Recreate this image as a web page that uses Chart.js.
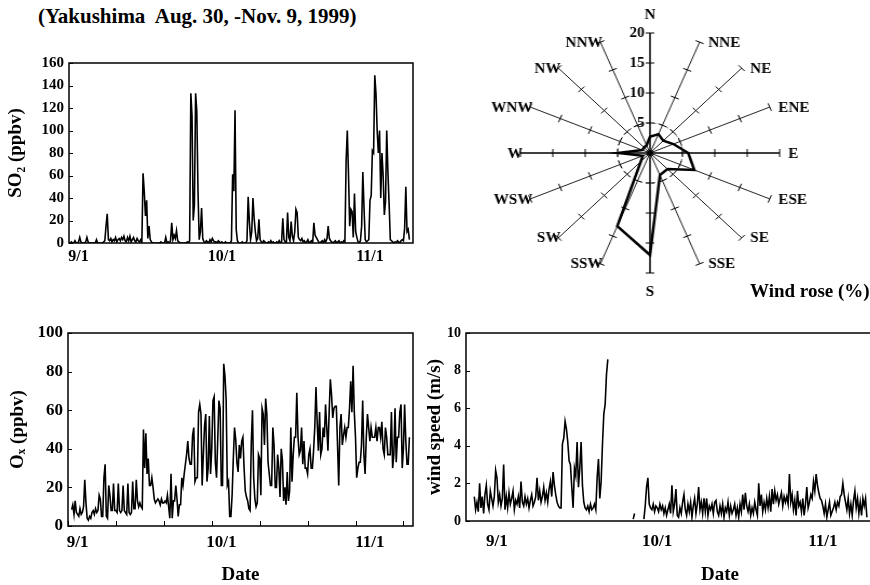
<!DOCTYPE html>
<html>
<head>
<meta charset="utf-8">
<script src="https://cdn.jsdelivr.net/npm/chart.js@4.4.1/dist/chart.umd.min.js"></script>
<style>
  html, body { margin: 0; padding: 0; background: #fff; overflow: hidden; }
  body { width: 870px; height: 585px; position: relative; font-family: "Liberation Serif", "Times New Roman", serif; }
  canvas { position: absolute; }
  #title { position: absolute; left: 38px; top: 6px; font-size: 21px; font-weight: bold; line-height: 1; white-space: pre; }
  #roseTitle { position: absolute; left: 750px; top: 281px; font-size: 19px; font-weight: bold; line-height: 1; white-space: pre; }
</style>
</head>
<body>
<div id="title">(Yakushima  Aug. 30, -Nov. 9, 1999)</div>
<canvas id="so2Chart" width="430" height="232" style="left:0;top:40px"></canvas>
<canvas id="roseChart" width="360" height="300" style="left:470px;top:3px;transform:scaleX(1.08);transform-origin:50% 50%"></canvas>
<div id="roseTitle">Wind rose (%)</div>
<canvas id="oxChart" width="430" height="276" style="left:0;top:310px"></canvas>
<canvas id="windChart" width="570" height="276" style="left:424px;top:310px"></canvas>

<script>
// time axis: days since Aug 30 0:00, one value every 6 hours
const tStep = 0.25;
const dateTicks = [2, 32, 63];
const dateLabels = ['9/1', '10/1', '11/1'];
const tenDayMarks = [0, 10, 20, 30, 40, 50, 60, 70];

// SO2 (ppbv), from t = 0
const so2Start = 0;
const so2 = [
  0,0,1,0,  0,2,0,0,  1,5,1,0,  0,0,1,5,  1,0,0,0,  0,0,0,3,  0,0,0,0,  0,1,2,15,
  26,3,2,4,  1,3,2,5,  1,3,4,2,  5,3,6,2,  1,5,2,6,  1,3,5,2,  1,4,2,1,  3,0,62,46,
  24,38,4,15,  3,1,0,0,  0,0,0,0,  0,1,0,0,  0,5,0,1,  0,2,18,3,  7,4,11,2,  1,0,0,0,
  0,0,0,1,  0,2,133,113,  20,34,133,117,  46,3,10,31,  4,1,0,2,  1,0,3,1,  4,2,1,1,  0,2,1,0,
  1,0,0,1,  0,0,0,0,  2,61,46,118,  12,2,0,0,  0,1,0,0,  0,2,41,19,  3,10,40,22,  10,2,4,21,
  3,1,0,2,  1,0,0,1,  0,2,0,1,  0,0,1,0,  2,0,1,22,  3,1,0,27,  5,2,19,6,  2,10,30,27,
  5,3,2,4,  1,2,0,1,  3,0,1,2,  0,18,7,5,  3,1,0,1,  2,0,3,1,  4,15,4,2,  1,0,1,2,
  0,1,2,0,  1,0,2,1,  73,100,61,15,  30,28,5,44,  10,5,1,0,  2,15,63,31,  3,1,2,3,  38,42,82,80,
  149,133,100,80,  100,40,80,60,  25,37,100,63,  35,3,2,1,  0,1,0,2,  1,0,2,3,  2,13,50,10,  12,3
];

// Ox (ppbv), from t = 0
const oxStart = 0;
const ox = [
  null,null,null,8.5,  11,6,13,7,  6,5,9,6,  7,10,24,12,  4,3,5,4,  7,8,6,9,  7,8,16,14,  5,5,25,32,
  5,4,21,16,  8,8,22,8,  8,7,22,8,  7,8,21,8,  7,6,22,7,  6,7,23,9,  9,24,13,10,  12,10,9,50,
  30,48,27,35,  21,21,25,20,  14,12,13,14,  13,11,14,12,  12,13,12,16,  10,4,27,4,  13,13,21,14,  5,11,11,25,
  21,27,32,37,  44,35,32,32,  47,51,23,25,  25,59,63,58,  21,37,52,58,  23,30,57,27,  40,65,67,33,  25,45,65,61,
  21,21,84,78,  66,21,23,5,  5,16,35,51,  45,33,28,42,  35,44,46,30,  18,15,13,9,  8,43,60,25,  14,10,12,37,
  35,16,61,58,  42,66,58,33,  27,21,21,51,  42,20,20,37,  30,15,40,34,  13,20,11,28,  13,18,51,23,  37,46,46,69,
  46,37,39,51,  32,44,30,30,  27,37,40,30,  30,39,51,72,  54,39,59,37,  40,51,46,63,  51,39,59,76,  68,56,61,62,
  62,42,21,51,  58,42,47,51,  46,51,51,61,  75,59,83,59,  46,25,30,33,  33,42,65,37,  27,46,58,51,  44,51,46,46,
  46,51,44,51,  51,46,54,40,  37,51,46,37,  37,37,59,30,  37,61,33,46,  46,59,63,30,  40,63,44,32,  32,46
];

// wind speed (m/s), from t = -3 (no data Sept 21-28)
const windStart = -3;
const wind = [
  null,null,null,1.3,  0.6,1.0,0.5,2.0,  0.7,1.3,0.4,1.4,
  1.9,0.9,0.6,1.6,  1.2,0.8,1.3,2.7,  2.3,1.0,1.4,0.8,  1.2,3.0,0.6,1.3,  0.7,1.5,0.9,1.2,
  1.6,0.6,1.1,0.9,  1.3,0.7,2.1,1.0,  0.8,1.3,0.9,1.2,  0.7,1.1,1.4,0.8,  1.0,1.3,2.3,1.1,
  1.6,1.0,1.3,1.8,  1.1,1.5,1.0,1.7,  2.1,1.3,2.6,1.9,  1.4,1.0,0.8,0.7,  0.7,4.1,4.4,5.3,
  4.9,4.2,3.2,3.0,  1.8,0.7,2.8,2.4,  4.2,1.8,2.8,4.2,  1.9,1.0,0.7,0.6,  0.8,0.5,0.9,0.6,
  0.7,0.9,0.6,2.3,  3.3,1.2,2.1,4.1,  5.7,6.2,7.8,8.6,  null,null,null,null,  null,null,null,null,
  null,null,null,null,  null,null,null,null,  null,null,0.1,0.4,  null,null,null,null,  null,null,0.1,0.8,
  1.8,2.3,0.9,0.7,  0.6,0.9,0.5,0.8,  0.7,0.5,0.9,0.6,  0.8,0.4,0.7,0.3,  0.6,0.9,0.4,1.9,
  0.5,0.9,1.7,0.3,  0.2,0.7,0.4,1.0,  1.4,0.6,0.3,0.9,  0.5,1.0,0.2,0.8,  1.2,0.4,0.9,1.8,
  0.6,1.0,0.4,1.2,  0.5,1.2,0.3,0.8,  0.6,0.9,0.4,1.0,  1.1,0.5,0.3,0.8,  0.4,0.9,0.2,0.7,
  0.5,1.0,0.3,0.8,  0.4,0.6,0.9,0.3,  0.7,0.2,0.9,0.5,  1.4,0.6,1.5,0.8,  0.5,0.9,0.3,0.7,
  0.4,1.0,0.6,0.3,  2.0,0.8,1.4,0.5,  1.0,0.6,1.2,0.7,  1.3,0.5,1.7,0.9,  1.6,1.1,1.4,0.9,
  1.2,1.5,0.8,1.3,  1.0,1.3,0.9,2.5,  1.0,1.4,0.6,1.1,  0.3,1.6,0.8,1.0,  0.5,1.2,0.3,0.9,
  1.8,0.7,1.0,1.4,  1.2,2.1,1.6,2.5,  1.9,1.5,1.2,1.1,  0.8,0.4,0.9,0.2,  0.6,1.0,0.3,0.5,
  0.7,1.0,0.6,1.0,  0.8,1.3,1.4,2.0,  1.4,1.0,0.6,1.2,  0.4,0.9,0.3,1.1,  1.6,0.7,1.2,0.4,
  1.0,0.3,1.2,0.8,  1.2,0.2
];

// wind rose (%)
const roseDirs = ['N','NNE','NE','ENE','E','ESE','SE','SSE','S','SSW','SW','WSW','W','WNW','NW','NNW'];
const roseFreq = [2.7, 3.4, 2.9, 3.9, 5.9, 7.4, 3.8, 4.0, 17, 13.2, 2.0, 1.2, 4.9, 1.3, 1.3, 1.4];
const roseRings = [5, 10, 15, 20];

Chart.defaults.font.family = '"Liberation Serif", "Times New Roman", serif';
Chart.defaults.color = '#000';
Chart.defaults.animation = false;

function series(start, values) {
  return values.map((v, i) => ({ x: start + i * tStep, y: v }));
}

// box around the plot + short inward ticks
const frame = {
  id: 'frame',
  afterDatasetsDraw(chart, args, opts) {
    const { ctx, chartArea: a, scales } = chart;
    ctx.save();
    ctx.strokeStyle = '#000';
    ctx.lineWidth = 1.5;
    ctx.strokeRect(a.left, a.top, a.right - a.left, a.bottom - a.top);
    ctx.lineWidth = 1;
    ctx.beginPath();
    scales.y.ticks.forEach(t => {
      const y = Math.round(scales.y.getPixelForValue(t.value)) + 0.5;
      ctx.moveTo(a.left, y);
      ctx.lineTo(a.left + 4, y);
    });
    (opts.xMarks || []).forEach(v => {
      const x = Math.round(scales.x.getPixelForValue(v)) + 0.5;
      ctx.moveTo(x, a.bottom);
      ctx.lineTo(x, a.bottom - 5);
    });
    ctx.stroke();
    ctx.restore();
  }
};

function timeChart(id, c) {
  return new Chart(document.getElementById(id), {
    type: 'line',
    data: {
      datasets: [{
        data: c.data,
        borderColor: '#000',
        borderWidth: 1.6,
        pointRadius: 0,
        tension: 0,
        spanGaps: false
      }]
    },
    options: {
      responsive: false,
      layout: { padding: { top: 23, right: c.right, left: 0, bottom: 0 } },
      plugins: {
        legend: { display: false },
        tooltip: { enabled: false },
        frame: { xMarks: c.xMarks }
      },
      scales: {
        x: {
          type: 'linear',
          min: c.xMin,
          max: c.xMax,
          grid: { display: false, drawTicks: false },
          border: { display: false },
          afterBuildTicks: s => { s.ticks = dateTicks.map(v => ({ value: v })); },
          afterFit: s => { s.height = c.xHeight; },
          ticks: {
            autoSkip: false,
            maxRotation: 0,
            padding: c.xPad,
            font: { size: c.xFont, weight: 'bold' },
            callback: v => dateLabels[dateTicks.indexOf(v)]
          },
          title: {
            display: c.date,
            text: 'Date',
            font: { size: 19, weight: 'bold' },
            padding: 0
          }
        },
        y: {
          min: 0,
          max: c.yMax,
          grid: { display: false, drawTicks: false },
          border: { display: false },
          afterFit: s => { s.width = c.yWidth; },
          ticks: { stepSize: c.yStep, padding: 5, font: { size: c.yFont, weight: 'bold' } },
          title: {
            display: true,
            text: c.yTitle,
            font: { size: 19, weight: 'bold' },
            padding: { top: c.yTitlePad, bottom: 0 }
          }
        }
      }
    },
    plugins: [frame]
  });
}

timeChart('so2Chart', {
  data: series(so2Start, so2), xMin: 0, xMax: 72, right: 17, yWidth: 69, xHeight: 29,
  xPad: 4, xFont: 16, yFont: 15, yMax: 160, yStep: 20, yTitle: 'SO₂ (ppbv)', yTitlePad: 5,
  date: false, xMarks: []
});

timeChart('oxChart', {
  data: series(oxStart, ox), xMin: 0, xMax: 72, right: 17, yWidth: 68, xHeight: 60,
  xPad: 6, xFont: 17, yFont: 17, yMax: 100, yStep: 20, yTitle: 'Oₓ (ppbv)', yTitlePad: 7,
  date: true, xMarks: tenDayMarks
});

timeChart('windChart', {
  data: series(windStart, wind), xMin: -3.8, xMax: 91.3, right: 20, yWidth: 42, xHeight: 65,
  xPad: 10, xFont: 17, yFont: 14, yMax: 10, yStep: 2, yTitle: 'wind speed (m/s)', yTitlePad: 0,
  date: true, xMarks: []
});

// spoke tick marks, direction names, ring numbers and the dot at the centre
const roseDecor = {
  id: 'roseDecor',
  afterDatasetsDraw(chart) {
    const { ctx } = chart;
    const r = chart.scales.r;
    const outer = r.getDistanceFromCenterForValue(r.max);
    ctx.save();
    ctx.strokeStyle = '#000';
    ctx.lineWidth = 1;
    ctx.beginPath();
    roseDirs.forEach((d, i) => {
      const a = r.getIndexAngle(i) - Math.PI / 2;
      const px = -Math.sin(a), py = Math.cos(a);
      roseRings.forEach(v => {
        const p = r.getPointPositionForValue(i, v);
        ctx.moveTo(p.x - px * 4, p.y - py * 4);
        ctx.lineTo(p.x + px * 4, p.y + py * 4);
      });
    });
    ctx.stroke();

    ctx.fillStyle = '#000';
    ctx.font = 'bold 14px "Liberation Serif", serif';
    ctx.textBaseline = 'middle';
    roseDirs.forEach((d, i) => {
      const p = r.getPointPosition(i, outer);
      const dx = p.x - r.xCenter;
      if (Math.abs(dx) < 1) {
        ctx.textAlign = 'center';
        ctx.fillText(d, p.x, p.y + (p.y < r.yCenter ? -18 : 19));
      } else if (dx > 0) {
        ctx.textAlign = 'left';
        ctx.fillText(d, p.x + 8, p.y + 1);
      } else {
        ctx.textAlign = 'right';
        ctx.fillText(d, p.x + 2, p.y + 1);
      }
    });

    ctx.textAlign = 'right';
    roseRings.forEach(v => {
      const p = r.getPointPositionForValue(0, v);
      ctx.fillText(String(v), p.x - 5, p.y);
    });
    ctx.beginPath();
    ctx.arc(r.xCenter, r.yCenter, 3, 0, Math.PI * 2);
    ctx.fill();
    ctx.restore();
  }
};

new Chart(document.getElementById('roseChart'), {
  type: 'radar',
  data: {
    labels: roseDirs,
    datasets: [{
      data: roseFreq,
      borderColor: '#000',
      borderWidth: 2.5,
      pointRadius: 0,
      fill: false,
      tension: 0
    }]
  },
  options: {
    responsive: false,
    layout: { padding: { top: 30, bottom: 30, left: 60, right: 60 } },
    plugins: { legend: { display: false }, tooltip: { enabled: false } },
    scales: {
      r: {
        min: 0,
        max: 20,
        ticks: { display: false, stepSize: 5 },
        grid: {
          circular: true,
          color: c => (c.tick && c.tick.value === 5) ? '#666' : 'rgba(0,0,0,0)',
          lineWidth: 1
        },
        border: { dash: [3, 3] },
        angleLines: {
          color: c => c.index % 4 === 0 ? '#000' : '#222',
          lineWidth: c => c.index % 4 === 0 ? 1.5 : 1
        },
        pointLabels: { display: false }
      }
    }
  },
  plugins: [roseDecor]
});
</script>
</body>
</html>
